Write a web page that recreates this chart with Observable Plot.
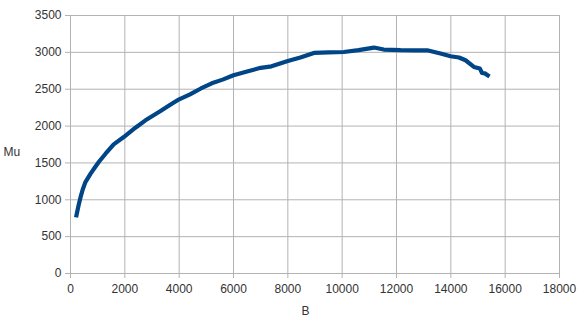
<!DOCTYPE html>
<html>
<head>
<meta charset="utf-8">
<script src="https://cdn.jsdelivr.net/npm/d3@7"></script>
<script src="https://cdn.jsdelivr.net/npm/@observablehq/plot@0.6"></script>
<style>
  html, body { margin: 0; padding: 0; background: #fff; }
  #chart { width: 585px; height: 324px; }
  svg { font-family: "Liberation Sans", Arial, sans-serif; }
</style>
</head>
<body>
<div id="chart"></div>
<script>
const B  = [220, 300, 370, 450, 550, 740, 890, 1040, 1290, 1590, 1960, 2390, 2760, 3300, 3700, 4000, 4400, 4800, 5200, 5600, 6000, 6500, 7000, 7400, 7800, 8000, 8460, 8960, 9500, 10060, 10600, 11170, 11530, 12150, 12700, 13130, 13620, 13990, 14300, 14540, 14850, 15070, 15150, 15250, 15360];
const Mu = [790, 930, 1036, 1140, 1240, 1354, 1435, 1512, 1625, 1752, 1851, 1978, 2078, 2200, 2295, 2363, 2430, 2510, 2580, 2630, 2689, 2740, 2790, 2810, 2860, 2883, 2929, 2992, 3000, 3005, 3030, 3065, 3038, 3030, 3028, 3028, 2984, 2947, 2930, 2893, 2802, 2780, 2720, 2715, 2689];
const xTicks = [0, 2000, 4000, 6000, 8000, 10000, 12000, 14000, 16000, 18000];
const yTicks = [0, 500, 1000, 1500, 2000, 2500, 3000, 3500];

const data = B.map((b, i) => ({B: b, Mu: Mu[i]}));
const grid = "#b3b3b3";
const textColor = "#333333";

const chart = Plot.plot({
  width: 585,
  height: 324,
  marginLeft: 70,
  marginRight: 26,
  marginTop: 15,
  marginBottom: 51,
  style: {fontFamily: "Liberation Sans, Arial, sans-serif", fontSize: "12px", color: textColor, background: "#fff"},
  x: {domain: [0, 18000]},
  y: {domain: [0, 3500]},
  marks: [
    Plot.gridX(xTicks, {stroke: grid, strokeOpacity: 1}),
    Plot.gridY(yTicks, {stroke: grid, strokeOpacity: 1}),
    Plot.axisX(xTicks, {tickSize: 5, stroke: grid, tickPadding: 6, label: null, tickFormat: d => String(d), fontSize: 12}),
    Plot.axisY(yTicks, {tickSize: 5, stroke: grid, tickPadding: 4, label: null, tickFormat: d => String(d), fontSize: 12}),
    Plot.ruleY([0], {stroke: grid}),
    Plot.ruleX([0], {stroke: grid}),
    Plot.line(data, {x: "B", y: "Mu", stroke: "#004586", strokeWidth: 4.2, strokeLinejoin: "round", strokeLinecap: "square"}),
    Plot.text(["Mu"], {frameAnchor: "left", dx: -67, dy: 8, textAnchor: "start", fill: textColor, fontSize: 12}),
    Plot.text(["B"], {frameAnchor: "bottom", dx: -9.5, dy: 41, fill: textColor, fontSize: 12})
  ]
});
document.getElementById("chart").appendChild(chart);
</script>
</body>
</html>
